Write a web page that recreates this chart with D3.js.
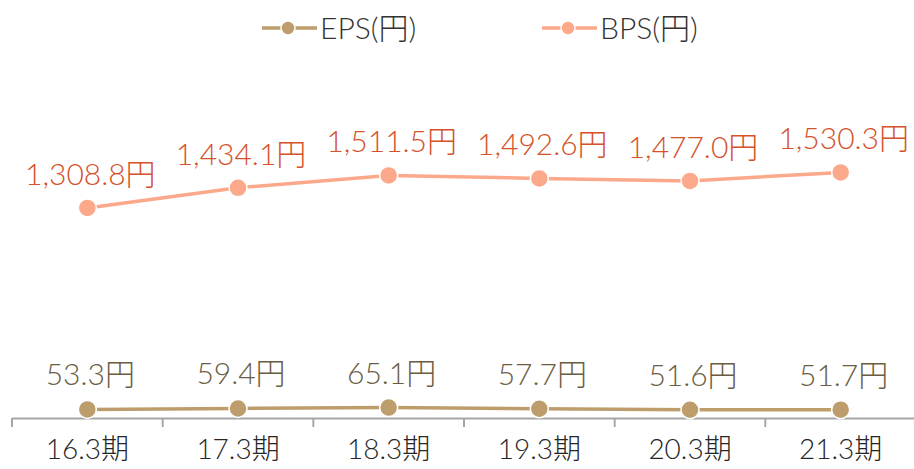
<!DOCTYPE html>
<html>
<head>
    <meta charset="utf-8">
    <title>EPS / BPS</title>
    <script src="https://d3js.org/d3.v7.min.js"></script>
    <style>
        body { margin: 0; background: #fff; }
        text { font-family: Lato, "Noto Sans CJK JP", sans-serif; font-weight: 300; }
        .axis text { font-size: 28px; fill: #262626; }
        .legend text { font-size: 30px; fill: #333333; }
    </style>
</head>
<body>
<svg width="914" height="469"></svg>
<script>
    var periods = ["16.3期", "17.3期", "18.3期", "19.3期", "20.3期", "21.3期"];
    var eps = [53.3, 59.4, 65.1, 57.7, 51.6, 51.7];
    var bps = [1308.8, 1434.1, 1511.5, 1492.6, 1477.0, 1530.3];
    var seriesNames = ["EPS(円)", "BPS(円)"];

    var svg = d3.select("svg");

    var x = d3.scaleBand().domain(periods).range([12, 916]);
    var y = d3.scaleLinear().domain([0, 2000]).range([418, 97]);

    var series = [
        {name: seriesNames[0], values: eps, line: "#BE9D6C", label: "#6B5C42", dy: -24},
        {name: seriesNames[1], values: bps, line: "#FCA88A", label: "#D4512A", dy: -23}
    ];
    var fmt = d3.format(",.1f");

    // axis
    var ax = svg.append("g").attr("class", "axis")
        .attr("transform", "translate(0,418)")
        .call(d3.axisBottom(x).tickSize(0).tickPadding(21));
    ax.select(".domain").attr("stroke", "#A6A6A6").attr("stroke-width", 2);
    ax.selectAll("text").attr("dy", "0.71em");

    // tick marks at category boundaries
    ax.selectAll(".bound").data(periods).enter().append("line")
        .attr("class", "bound")
        .attr("x1", d => x(d)).attr("x2", d => x(d))
        .attr("y1", 0).attr("y2", 9)
        .attr("stroke", "#A6A6A6").attr("stroke-width", 2);

    var cx = d => x(d) + x.bandwidth() / 2;

    series.forEach(function(s) {
        var pts = periods.map((p, i) => [cx(p), y(s.values[i])]);
        var g = svg.append("g");
        g.append("path")
            .attr("d", d3.line()(pts))
            .attr("fill", "none")
            .attr("stroke", s.line)
            .attr("stroke-width", 3.5);
        g.selectAll("circle").data(pts).enter().append("circle")
            .attr("cx", d => d[0]).attr("cy", d => d[1])
            .attr("r", 9)
            .attr("fill", s.line)
            .attr("stroke", "#fff").attr("stroke-width", 1.5);
        g.selectAll("text").data(s.values).enter().append("text")
            .attr("x", (d, i) => pts[i][0] + 3)
            .attr("y", (d, i) => pts[i][1] + s.dy)
            .attr("text-anchor", "middle")
            .attr("font-size", 30)
            .attr("fill", s.label)
            .text(d => fmt(d) + "円");
    });

    // legend
    var legend = svg.append("g").attr("class", "legend");
    var lx = [262, 542];
    series.forEach(function(s, i) {
        var lg = legend.append("g").attr("transform", "translate(" + lx[i] + ",28)");
        lg.append("line").attr("x1", 0).attr("x2", 55).attr("y1", 0).attr("y2", 0)
            .attr("stroke", s.line).attr("stroke-width", 3.5);
        lg.append("circle").attr("cx", 26).attr("cy", 0).attr("r", 7)
            .attr("fill", s.line).attr("stroke", "#fff").attr("stroke-width", 1.5);
        lg.append("text").attr("x", 58).attr("y", 0).attr("dy", "0.36em")
            .text(s.name);
    });
</script>
</body>
</html>
